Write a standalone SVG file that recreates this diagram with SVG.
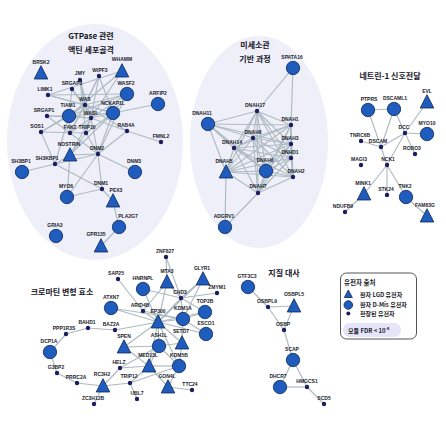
<svg xmlns="http://www.w3.org/2000/svg" xmlns:xlink="http://www.w3.org/1999/xlink" width="446" height="423" viewBox="0 0 446 423">
<style>
.bg{fill:#efeff9}
.e line{stroke:#adbac1;stroke-width:1.15}
.c{fill:#1f5cbd;stroke:#0e2a57;stroke-width:.8}
.t{fill:#1f5cbd;stroke:#0e2a57;stroke-width:.8;stroke-linejoin:round}
.d{fill:#1c1c63}
text{font-family:"Liberation Sans",Arial,sans-serif;font-weight:bold;fill:#1d1d2b}
.n text{font-size:5px;text-anchor:middle}
.ttl{font-family:"Noto Sans CJK KR","Noto Sans",sans-serif;font-size:8px;text-anchor:middle;fill:#15151f}
.lg{font-family:"Noto Sans CJK KR","Noto Sans",sans-serif;font-size:6px}
</style>
<defs>
<circle id="C" r="6.7"/>
<circle id="D" r="2.2"/>
<path id="T" d="M0,-7.3 L6.8,6 L-6.8,6 Z"/>
</defs>
<g id="backgrounds">
<ellipse class="bg" cx="95" cy="142" rx="88" ry="118"/>
<ellipse class="bg" cx="259" cy="142" rx="69" ry="106"/>
</g>
<g id="titles">
<text class="ttl" x="91" y="39">GTPase 관련</text>
<text class="ttl" x="91" y="53">액틴 세포골격</text>
<text class="ttl" x="255" y="48">미세소관</text>
<text class="ttl" x="255" y="62">기반 과정</text>
<text class="ttl" x="390" y="79">네트린-1 신호전달</text>
<text class="ttl" x="62" y="295">크로마틴 변형 효소</text>
<text class="ttl" x="284" y="276">지질 대사</text>
</g>
<g id="connectors" class="e">
<line x1="122" y1="71" x2="91" y2="118"/><line x1="122" y1="71" x2="48" y2="95"/><line x1="122" y1="71" x2="69" y2="116"/>
<line x1="80" y1="80" x2="85" y2="105"/><line x1="80" y1="80" x2="91" y2="118"/><line x1="80" y1="80" x2="86" y2="133"/>
<line x1="99" y1="76" x2="85" y2="105"/><line x1="99" y1="76" x2="91" y2="118"/><line x1="99" y1="76" x2="70" y2="133"/><line x1="99" y1="76" x2="113" y2="113"/>
<line x1="72" y1="89" x2="85" y2="105"/><line x1="72" y1="89" x2="91" y2="118"/><line x1="72" y1="89" x2="69" y2="116"/>
<line x1="48" y1="95" x2="85" y2="105"/><line x1="48" y1="95" x2="127" y2="94"/><line x1="48" y1="95" x2="113" y2="113"/>
<line x1="127" y1="94" x2="113" y2="113"/><line x1="127" y1="94" x2="85" y2="105"/><line x1="127" y1="94" x2="69" y2="116"/><line x1="127" y1="94" x2="91" y2="118"/><line x1="127" y1="94" x2="98" y2="154"/>
<line x1="158" y1="104" x2="113" y2="113"/>
<line x1="47" y1="116" x2="69" y2="116"/><line x1="47" y1="116" x2="91" y2="118"/><line x1="47" y1="116" x2="70" y2="133"/>
<line x1="41" y1="132" x2="69" y2="116"/><line x1="41" y1="132" x2="85" y2="105"/><line x1="41" y1="132" x2="55" y2="164"/><line x1="41" y1="132" x2="86" y2="133"/>
<line x1="69" y1="116" x2="85" y2="105"/><line x1="69" y1="116" x2="91" y2="118"/><line x1="69" y1="116" x2="70" y2="133"/><line x1="69" y1="116" x2="113" y2="113"/><line x1="69" y1="116" x2="55" y2="164"/>
<line x1="113" y1="113" x2="91" y2="118"/><line x1="113" y1="113" x2="85" y2="105"/><line x1="113" y1="113" x2="86" y2="133"/><line x1="113" y1="113" x2="98" y2="154"/><line x1="113" y1="113" x2="70" y2="155"/>
<line x1="91" y1="118" x2="85" y2="105"/><line x1="91" y1="118" x2="86" y2="133"/><line x1="91" y1="118" x2="70" y2="133"/><line x1="91" y1="118" x2="70" y2="155"/><line x1="91" y1="118" x2="98" y2="154"/><line x1="91" y1="118" x2="127" y2="131"/>
<line x1="86" y1="133" x2="98" y2="154"/><line x1="86" y1="133" x2="70" y2="155"/>
<line x1="127" y1="131" x2="161" y2="142"/><line x1="127" y1="131" x2="98" y2="154"/><line x1="127" y1="131" x2="85" y2="105"/>
<line x1="70" y1="155" x2="98" y2="154"/><line x1="70" y1="155" x2="55" y2="164"/><line x1="70" y1="155" x2="67" y2="197"/>
<line x1="98" y1="154" x2="135" y2="172"/><line x1="98" y1="154" x2="102" y2="189"/><line x1="98" y1="154" x2="67" y2="197"/><line x1="98" y1="154" x2="55" y2="164"/>
<line x1="55" y1="164" x2="22" y2="172"/><line x1="55" y1="164" x2="102" y2="189"/>
<line x1="102" y1="189" x2="67" y2="197"/><line x1="102" y1="189" x2="113" y2="201"/>
<line x1="113" y1="201" x2="119" y2="227"/><line x1="119" y1="227" x2="101" y2="246"/>
<line x1="70" y1="133" x2="98" y2="154"/><line x1="85" y1="105" x2="70" y2="133"/>
<line x1="293" y1="68" x2="257" y2="111"/><line x1="293" y1="68" x2="291" y2="125"/>
<line x1="208" y1="124" x2="257" y2="111"/><line x1="208" y1="124" x2="253" y2="138"/><line x1="208" y1="124" x2="234" y2="148"/><line x1="208" y1="124" x2="226" y2="172"/><line x1="208" y1="124" x2="266" y2="171"/><line x1="208" y1="124" x2="291" y2="125"/><line x1="208" y1="124" x2="291" y2="144"/>
<line x1="225" y1="227" x2="226" y2="172"/><line x1="225" y1="227" x2="258" y2="193"/>
<line x1="257" y1="111" x2="253" y2="138"/><line x1="257" y1="111" x2="234" y2="148"/><line x1="257" y1="111" x2="226" y2="172"/><line x1="257" y1="111" x2="266" y2="171"/><line x1="257" y1="111" x2="258" y2="193"/><line x1="257" y1="111" x2="291" y2="125"/><line x1="257" y1="111" x2="291" y2="144"/><line x1="257" y1="111" x2="291" y2="158"/><line x1="257" y1="111" x2="293" y2="177"/>
<line x1="253" y1="138" x2="234" y2="148"/><line x1="253" y1="138" x2="226" y2="172"/><line x1="253" y1="138" x2="266" y2="171"/><line x1="253" y1="138" x2="258" y2="193"/><line x1="253" y1="138" x2="291" y2="125"/><line x1="253" y1="138" x2="291" y2="144"/><line x1="253" y1="138" x2="291" y2="158"/><line x1="253" y1="138" x2="293" y2="177"/>
<line x1="234" y1="148" x2="226" y2="172"/><line x1="234" y1="148" x2="266" y2="171"/><line x1="234" y1="148" x2="258" y2="193"/><line x1="234" y1="148" x2="291" y2="125"/><line x1="234" y1="148" x2="291" y2="144"/><line x1="234" y1="148" x2="291" y2="158"/><line x1="234" y1="148" x2="293" y2="177"/>
<line x1="226" y1="172" x2="266" y2="171"/><line x1="226" y1="172" x2="258" y2="193"/><line x1="226" y1="172" x2="291" y2="125"/><line x1="226" y1="172" x2="291" y2="144"/><line x1="226" y1="172" x2="291" y2="158"/><line x1="226" y1="172" x2="293" y2="177"/>
<line x1="266" y1="171" x2="258" y2="193"/><line x1="266" y1="171" x2="291" y2="125"/><line x1="266" y1="171" x2="291" y2="144"/><line x1="266" y1="171" x2="291" y2="158"/><line x1="266" y1="171" x2="293" y2="177"/>
<line x1="258" y1="193" x2="291" y2="125"/><line x1="258" y1="193" x2="291" y2="144"/><line x1="258" y1="193" x2="291" y2="158"/><line x1="258" y1="193" x2="293" y2="177"/>
<line x1="291" y1="125" x2="291" y2="144"/><line x1="291" y1="125" x2="291" y2="158"/><line x1="291" y1="125" x2="293" y2="177"/>
<line x1="291" y1="144" x2="291" y2="158"/><line x1="291" y1="144" x2="293" y2="177"/><line x1="291" y1="158" x2="293" y2="177"/>
<line x1="368" y1="110" x2="394" y2="109"/><line x1="368" y1="110" x2="381" y2="147"/><line x1="394" y1="109" x2="381" y2="147"/><line x1="394" y1="109" x2="405" y2="133"/>
<line x1="405" y1="133" x2="427" y2="102"/><line x1="405" y1="133" x2="427" y2="134"/><line x1="405" y1="133" x2="381" y2="147"/><line x1="405" y1="133" x2="415" y2="154"/><line x1="405" y1="133" x2="387" y2="165"/>
<line x1="381" y1="147" x2="361" y2="141"/><line x1="381" y1="147" x2="387" y2="165"/>
<line x1="387" y1="165" x2="364" y2="194"/><line x1="387" y1="165" x2="387" y2="195"/><line x1="387" y1="165" x2="406" y2="197"/>
<line x1="364" y1="194" x2="345" y2="212"/><line x1="406" y1="197" x2="427" y2="216"/>
<line x1="115" y1="330" x2="88" y2="328"/><line x1="88" y1="328" x2="66" y2="334"/><line x1="66" y1="334" x2="50" y2="352"/><line x1="50" y1="352" x2="57" y2="373"/><line x1="57" y1="373" x2="77" y2="383"/><line x1="77" y1="383" x2="103" y2="386"/>
<line x1="103" y1="386" x2="94" y2="404"/><line x1="103" y1="386" x2="120" y2="368"/><line x1="103" y1="386" x2="130" y2="383"/>
<line x1="130" y1="383" x2="137" y2="399"/><line x1="130" y1="383" x2="149" y2="366"/><line x1="130" y1="383" x2="179" y2="366"/>
<line x1="120" y1="368" x2="149" y2="366"/><line x1="120" y1="368" x2="159" y2="346"/>
<line x1="124" y1="347" x2="158" y2="322"/><line x1="124" y1="347" x2="159" y2="346"/><line x1="124" y1="347" x2="149" y2="366"/>
<line x1="158" y1="322" x2="111" y2="308"/><line x1="158" y1="322" x2="115" y2="330"/><line x1="158" y1="322" x2="143" y2="311"/><line x1="158" y1="322" x2="183" y2="319"/><line x1="158" y1="322" x2="181" y2="298"/><line x1="158" y1="322" x2="167" y2="282"/><line x1="158" y1="322" x2="205" y2="312"/><line x1="158" y1="322" x2="206" y2="334"/><line x1="158" y1="322" x2="182" y2="343"/><line x1="158" y1="322" x2="159" y2="346"/><line x1="158" y1="322" x2="149" y2="366"/><line x1="158" y1="322" x2="179" y2="366"/><line x1="158" y1="322" x2="203" y2="279"/><line x1="158" y1="322" x2="143" y2="289"/>
<line x1="181" y1="298" x2="167" y2="282"/><line x1="181" y1="298" x2="166" y2="257"/><line x1="167" y1="282" x2="166" y2="257"/><line x1="181" y1="298" x2="203" y2="279"/><line x1="181" y1="298" x2="183" y2="319"/><line x1="181" y1="298" x2="143" y2="289"/><line x1="181" y1="298" x2="205" y2="312"/><line x1="181" y1="298" x2="217" y2="293"/>
<line x1="203" y1="279" x2="183" y2="319"/><line x1="183" y1="319" x2="205" y2="312"/><line x1="183" y1="319" x2="206" y2="334"/><line x1="183" y1="319" x2="182" y2="343"/><line x1="183" y1="319" x2="143" y2="311"/><line x1="183" y1="319" x2="111" y2="308"/>
<line x1="143" y1="311" x2="118" y2="279"/><line x1="143" y1="311" x2="167" y2="282"/>
<line x1="159" y1="346" x2="179" y2="366"/><line x1="159" y1="346" x2="149" y2="366"/><line x1="159" y1="346" x2="182" y2="343"/><line x1="182" y1="343" x2="179" y2="366"/>
<line x1="149" y1="366" x2="179" y2="366"/><line x1="149" y1="366" x2="168" y2="387"/><line x1="168" y1="387" x2="192" y2="390"/><line x1="168" y1="387" x2="179" y2="366"/>
<line x1="248" y1="287" x2="268" y2="307"/><line x1="268" y1="307" x2="294" y2="306"/><line x1="268" y1="307" x2="284" y2="330"/><line x1="294" y1="306" x2="284" y2="330"/><line x1="284" y1="330" x2="293" y2="360"/><line x1="293" y1="360" x2="280" y2="387"/><line x1="293" y1="360" x2="307" y2="387"/><line x1="280" y1="387" x2="307" y2="387"/><line x1="307" y1="387" x2="324" y2="404"/>
</g>
<g id="nodes" class="n">
<g id="n-BRSK2"><use href="#T" class="t" x="41" y="73"/><text x="41" y="64">BRSK2</text></g>
<g id="n-WHAMM"><use href="#T" class="t" x="122" y="71"/><text x="122" y="61">WHAMM</text></g>
<g id="n-JMY"><use href="#D" class="d" x="80" y="80"/><text x="80" y="75">JMY</text></g>
<g id="n-WIPF3"><use href="#D" class="d" x="99" y="76"/><text x="100" y="72">WIPF3</text></g>
<g id="n-SRGAP3"><use href="#D" class="d" x="72" y="89"/><text x="72" y="85">SRGAP3</text></g>
<g id="n-WASF2"><use href="#C" class="c" x="127" y="94"/><text x="126" y="85">WASF2</text></g>
<g id="n-ARFIP2"><use href="#C" class="c" x="158" y="104"/><text x="158" y="95">ARFIP2</text></g>
<g id="n-LIMK1"><use href="#D" class="d" x="48" y="95"/><text x="45" y="91">LIMK1</text></g>
<g id="n-WAS"><use href="#D" class="d" x="85" y="105"/><text x="85" y="101">WAS</text></g>
<g id="n-TIAM1"><use href="#C" class="c" x="69" y="116"/><text x="68" y="107">TIAM1</text></g>
<g id="n-NCKAP1L"><use href="#C" class="c" x="113" y="113"/><text x="113" y="105">NCKAP1L</text></g>
<g id="n-SRGAP1"><use href="#D" class="d" x="47" y="116"/><text x="44" y="112">SRGAP1</text></g>
<g id="n-WASL"><use href="#D" class="d" x="91" y="118"/><text x="91" y="115">WASL</text></g>
<g id="n-SOS1"><use href="#D" class="d" x="41" y="132"/><text x="37" y="128">SOS1</text></g>
<g id="n-FAK2"><use href="#D" class="d" x="70" y="133"/><text x="70" y="129">FAK2</text></g>
<g id="n-TRIP10"><use href="#D" class="d" x="86" y="133"/><text x="87" y="129">TRIP10</text></g>
<g id="n-RAB4A"><use href="#D" class="d" x="127" y="131"/><text x="126" y="127">RAB4A</text></g>
<g id="n-FMNL2"><use href="#D" class="d" x="161" y="142"/><text x="161" y="138">FMNL2</text></g>
<g id="n-NOSTRIN"><use href="#T" class="t" x="70" y="155"/><text x="69" y="146">NOSTRIN</text></g>
<g id="n-DNM2"><use href="#D" class="d" x="98" y="154"/><text x="97" y="150">DNM2</text></g>
<g id="n-SH3BP1"><use href="#C" class="c" x="22" y="172"/><text x="21" y="163">SH3BP1</text></g>
<g id="n-SH3KBP1"><use href="#D" class="d" x="55" y="164"/><text x="47" y="160">SH3KBP1</text></g>
<g id="n-DNM3"><use href="#C" class="c" x="135" y="172"/><text x="134" y="163">DNM3</text></g>
<g id="n-MYO6"><use href="#C" class="c" x="67" y="197"/><text x="66" y="188">MYO6</text></g>
<g id="n-DNM1"><use href="#D" class="d" x="102" y="189"/><text x="101" y="185">DNM1</text></g>
<g id="n-PEX3"><use href="#T" class="t" x="113" y="201"/><text x="116" y="192">PEX3</text></g>
<g id="n-PLA2G7"><use href="#C" class="c" x="119" y="227"/><text x="128" y="218">PLA2G7</text></g>
<g id="n-GRIA3"><use href="#C" class="c" x="56" y="236"/><text x="55" y="227">GRIA3</text></g>
<g id="n-GPR135"><use href="#T" class="t" x="101" y="246"/><text x="96" y="236">GPR135</text></g>
<g id="n-SPATA16"><use href="#C" class="c" x="293" y="68"/><text x="292" y="59">SPATA16</text></g>
<g id="n-DNAH17"><use href="#D" class="d" x="257" y="111"/><text x="255" y="107">DNAH17</text></g>
<g id="n-DNAH11"><use href="#C" class="c" x="208" y="124"/><text x="202" y="115">DNAH11</text></g>
<g id="n-DNAH1"><use href="#D" class="d" x="291" y="125"/><text x="290" y="121">DNAH1</text></g>
<g id="n-DNAH8"><use href="#D" class="d" x="253" y="138"/><text x="253" y="134">DNAH8</text></g>
<g id="n-DNAH14"><use href="#D" class="d" x="234" y="148"/><text x="232" y="144">DNAH14</text></g>
<g id="n-DNAH3"><use href="#D" class="d" x="291" y="144"/><text x="290" y="140">DNAH3</text></g>
<g id="n-DNHD1"><use href="#D" class="d" x="291" y="158"/><text x="290" y="154">DNHD1</text></g>
<g id="n-DNAH5"><use href="#T" class="t" x="226" y="172"/><text x="224" y="163">DNAH5</text></g>
<g id="n-DNAH6"><use href="#C" class="c" x="266" y="171"/><text x="265" y="162">DNAH6</text></g>
<g id="n-DNAH2"><use href="#D" class="d" x="293" y="177"/><text x="296" y="173">DNAH2</text></g>
<g id="n-DNAH7"><use href="#D" class="d" x="258" y="193"/><text x="258" y="188">DNAH7</text></g>
<g id="n-ADGRV1"><use href="#C" class="c" x="225" y="227"/><text x="224" y="218">ADGRV1</text></g>
<g id="n-PTPRS"><use href="#C" class="c" x="368" y="110"/><text x="369" y="101">PTPRS</text></g>
<g id="n-DSCAML1"><use href="#C" class="c" x="394" y="109"/><text x="395" y="100">DSCAML1</text></g>
<g id="n-EVL"><use href="#T" class="t" x="427" y="102"/><text x="427" y="93">EVL</text></g>
<g id="n-DCC"><use href="#D" class="d" x="405" y="133"/><text x="404" y="129">DCC</text></g>
<g id="n-MYO10"><use href="#C" class="c" x="427" y="134"/><text x="427" y="125">MYO10</text></g>
<g id="n-TNRC6B"><use href="#D" class="d" x="361" y="141"/><text x="360" y="137">TNRC6B</text></g>
<g id="n-DSCAM"><use href="#D" class="d" x="381" y="147"/><text x="378" y="143">DSCAM</text></g>
<g id="n-ROBO3"><use href="#D" class="d" x="415" y="154"/><text x="412" y="150">ROBO3</text></g>
<g id="n-MAGI3"><use href="#D" class="d" x="361" y="165"/><text x="359" y="161">MAGI3</text></g>
<g id="n-NCK1"><use href="#D" class="d" x="387" y="165"/><text x="388" y="161">NCK1</text></g>
<g id="n-MINK1"><use href="#T" class="t" x="364" y="194"/><text x="363" y="185">MINK1</text></g>
<g id="n-STK24"><use href="#D" class="d" x="387" y="195"/><text x="386" y="191">STK24</text></g>
<g id="n-TNK2"><use href="#C" class="c" x="406" y="197"/><text x="405" y="188">TNK2</text></g>
<g id="n-NDUFB9"><use href="#D" class="d" x="345" y="212"/><text x="343" y="208">NDUFB9</text></g>
<g id="n-FAM83G"><use href="#T" class="t" x="427" y="216"/><text x="425" y="207">FAM83G</text></g>
<g id="n-ZNF827"><use href="#D" class="d" x="166" y="257"/><text x="165" y="253">ZNF827</text></g>
<g id="n-SAP25"><use href="#D" class="d" x="118" y="279"/><text x="116" y="275">SAP25</text></g>
<g id="n-HNRNPL"><use href="#C" class="c" x="143" y="289"/><text x="143" y="280">HNRNPL</text></g>
<g id="n-MTA3"><use href="#T" class="t" x="167" y="282"/><text x="167" y="273">MTA3</text></g>
<g id="n-GLYR1"><use href="#T" class="t" x="203" y="279"/><text x="202" y="270">GLYR1</text></g>
<g id="n-ZMYM1"><use href="#D" class="d" x="217" y="293"/><text x="217" y="289">ZMYM1</text></g>
<g id="n-CHD3"><use href="#D" class="d" x="181" y="298"/><text x="180" y="294">CHD3</text></g>
<g id="n-ATXN7"><use href="#C" class="c" x="111" y="308"/><text x="111" y="299">ATXN7</text></g>
<g id="n-TOP2B"><use href="#C" class="c" x="205" y="312"/><text x="205" y="303">TOP2B</text></g>
<g id="n-ARID4B"><use href="#D" class="d" x="143" y="311"/><text x="140" y="307">ARID4B</text></g>
<g id="n-KDM1A"><use href="#C" class="c" x="183" y="319"/><text x="183" y="310">KDM1A</text></g>
<g id="n-EP300"><use href="#T" class="t" x="158" y="322"/><text x="158" y="313">EP300</text></g>
<g id="n-ESCO1"><use href="#C" class="c" x="206" y="334"/><text x="206" y="325">ESCO1</text></g>
<g id="n-BAZ2A"><use href="#D" class="d" x="115" y="330"/><text x="111" y="326">BAZ2A</text></g>
<g id="n-SPEN"><use href="#T" class="t" x="124" y="347"/><text x="124" y="338">SPEN</text></g>
<g id="n-ASH1L"><use href="#C" class="c" x="159" y="346"/><text x="159" y="337">ASH1L</text></g>
<g id="n-SETD7"><use href="#T" class="t" x="182" y="343"/><text x="181" y="333">SETD7</text></g>
<g id="n-KDM5B"><use href="#C" class="c" x="179" y="366"/><text x="179" y="357">KDM5B</text></g>
<g id="n-MED13L"><use href="#T" class="t" x="149" y="366"/><text x="148" y="357">MED13L</text></g>
<g id="n-HELZ"><use href="#D" class="d" x="120" y="368"/><text x="119" y="364">HELZ</text></g>
<g id="n-TRIP12"><use href="#D" class="d" x="130" y="383"/><text x="129" y="378">TRIP12</text></g>
<g id="n-GON4L"><use href="#T" class="t" x="168" y="387"/><text x="167" y="378">GON4L</text></g>
<g id="n-TTC24"><use href="#D" class="d" x="192" y="390"/><text x="190" y="386">TTC24</text></g>
<g id="n-UBL7"><use href="#D" class="d" x="137" y="399"/><text x="137" y="395">UBL7</text></g>
<g id="n-RC3H2"><use href="#T" class="t" x="103" y="386"/><text x="102" y="376">RC3H2</text></g>
<g id="n-ZC3H12B"><use href="#D" class="d" x="94" y="404"/><text x="93" y="400">ZC3H12B</text></g>
<g id="n-PRRC2A"><use href="#D" class="d" x="77" y="383"/><text x="76" y="379">PRRC2A</text></g>
<g id="n-G3BP2"><use href="#D" class="d" x="57" y="373"/><text x="56" y="369">G3BP2</text></g>
<g id="n-DCP1A"><use href="#C" class="c" x="50" y="352"/><text x="49" y="343">DCP1A</text></g>
<g id="n-PPP1R3S"><use href="#D" class="d" x="66" y="334"/><text x="64" y="330">PPP1R3S</text></g>
<g id="n-BAHD1"><use href="#D" class="d" x="88" y="328"/><text x="87" y="324">BAHD1</text></g>
<g id="n-GTF3C3"><use href="#C" class="c" x="248" y="287"/><text x="247" y="278">GTF3C3</text></g>
<g id="n-OSBPL9"><use href="#D" class="d" x="268" y="307"/><text x="267" y="303">OSBPL9</text></g>
<g id="n-OSBPL5"><use href="#T" class="t" x="294" y="306"/><text x="294" y="296">OSBPL5</text></g>
<g id="n-OSBP"><use href="#D" class="d" x="284" y="330"/><text x="283" y="326">OSBP</text></g>
<g id="n-SCAP"><use href="#C" class="c" x="293" y="360"/><text x="292" y="351">SCAP</text></g>
<g id="n-DHCR7"><use href="#C" class="c" x="280" y="387"/><text x="278" y="378">DHCR7</text></g>
<g id="n-HMGCS1"><use href="#D" class="d" x="307" y="387"/><text x="307" y="383">HMGCS1</text></g>
<g id="n-SCD5"><use href="#D" class="d" x="324" y="404"/><text x="324" y="400">SCD5</text></g>
</g>
<g id="legend">
<rect x="340.5" y="273" width="76" height="66" rx="6" fill="#fff" stroke="#555" stroke-width="1"/>
<text class="lg" x="344" y="285" style="font-size:6.5px">유전자 출처</text>
<path d="M348.3,290 L352.3,297.5 L344.3,297.5 Z" class="t"/>
<text class="lg" x="360" y="297">환자 LGD 유전자</text>
<circle cx="348.3" cy="305" r="4.3" class="c"/>
<text class="lg" x="360" y="307">환자 D-Mis 유전자</text>
<circle cx="348.3" cy="313.5" r="2" class="d"/>
<text class="lg" x="360" y="315.5">확장된 유전자</text>
<rect x="343" y="323" width="58" height="14" rx="7" fill="#e5e4f8"/>
<text class="lg" x="348" y="332.5">모듈 FDR &lt; 10<tspan dy="-2.5" style="font-size:4px">-8</tspan></text>
</g>
</svg>
